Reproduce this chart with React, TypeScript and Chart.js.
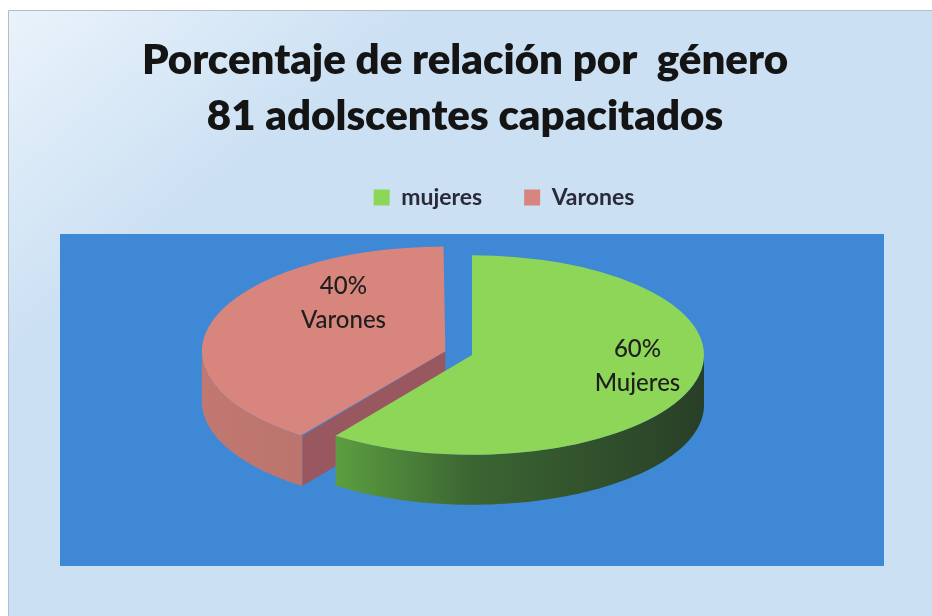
import React, { useEffect, useRef } from 'react';
import { Chart, registerables } from 'chart.js';

Chart.register(...registerables);

// ---------------- data ----------------
const TITLE_LINES = ['Porcentaje de relación por  género', '81 adolscentes capacitados'];
const CATEGORIES = ['mujeres', 'Varones'];
const SLICE_NAMES = ['Mujeres', 'Varones'];
const VALUES = [60, 40];

// ---------------- styles ----------------
const W = 932;
const H = 616;
const TOP_COLORS = ['#8dd657', '#d8857d'];
const WALL_STOPS = [
  [[0, '#62a843'], [0.2, '#5c9f40'], [0.5, '#3b6532'], [1, '#283f27']],
  [[0, '#c07870'], [1, '#ad6865']],
];
const CUT_COLORS = ['#3f6b31', '#995860'];
const EXPLODE = [0, 112];
const PIE_RADIUS = 232;
const PIE_CENTER_Y = 355;
const PIE_TILT = 0.43;
const PIE_DEPTH = 50;
const PLOT_INSET_TOP = 15;
const PLOT_COLOR = '#3e88d6';
const LABEL_K = [0.75, 0.44];
const LABEL_DY = [-12, -34];
const LEGEND_SHIFT = 32;
const TITLE_SHIFT = -7;

function geom(el: any) {
  const p = el.getProps(['x', 'y', 'startAngle', 'endAngle', 'outerRadius'], true);
  const off = (el.options.offset || 0) / 4;
  const mid = (p.startAngle + p.endAngle) / 2;
  const circ = p.endAngle - p.startAngle;
  const fix = 1 - Math.sin(Math.min(Math.PI, circ));
  return {
    cx: p.x + Math.cos(mid) * off,
    cy: p.y + Math.sin(mid) * off,
    r: p.outerRadius + off * fix,
    start: p.startAngle,
    end: p.endAngle,
    mid,
    baseY: p.y,
  };
}

const projY = (y: number, baseY: number) => PIE_CENTER_Y + (y - baseY) * PIE_TILT;

const backgroundPlugin = {
  id: 'bg',
  beforeDraw(chart: any) {
    const { ctx, chartArea: ca } = chart;
    ctx.save();
    ctx.fillStyle = '#ffffff';
    ctx.fillRect(0, 0, W, H);
    const g = ctx.createLinearGradient(8, 10, 180, 220);
    g.addColorStop(0, '#eaf3fb');
    g.addColorStop(1, '#cbe0f3');
    ctx.fillStyle = g;
    ctx.fillRect(8, 10, W - 8, H - 10);
    ctx.strokeStyle = '#b4bec8';
    ctx.lineWidth = 1;
    ctx.beginPath();
    ctx.moveTo(8.5, H);
    ctx.lineTo(8.5, 10.5);
    ctx.lineTo(W, 10.5);
    ctx.stroke();
    ctx.fillStyle = PLOT_COLOR;
    ctx.fillRect(ca.left, ca.top + PLOT_INSET_TOP, ca.right - ca.left, ca.bottom - ca.top - PLOT_INSET_TOP);
    ctx.restore();
  },
  afterLayout(chart: any) {
    if (chart.legend) {
      chart.legend.left += LEGEND_SHIFT;
      chart.legend.right += LEGEND_SHIFT;
    }
    if (chart.titleBlock) {
      chart.titleBlock.left += TITLE_SHIFT;
      chart.titleBlock.right += TITLE_SHIFT;
    }
  },
};

const pie3dPlugin = {
  id: 'pie3d',
  beforeDatasetsDraw(chart: any) {
    const { ctx } = chart;
    const meta = chart.getDatasetMeta(0);
    const els = meta.data.map((el: any, i: number) => ({ g: geom(el), i }));
    els.sort((a: any, b: any) => Math.sin(a.g.mid) - Math.sin(b.g.mid));
    const D = PIE_DEPTH;
    ctx.save();
    for (const { g, i } of els) {
      const P = (a: number) => [g.cx + g.r * Math.cos(a), projY(g.cy + g.r * Math.sin(a), g.baseY)];
      const apex = [g.cx, projY(g.cy, g.baseY)];
      const face = (a: number) => {
        const q = P(a);
        ctx.beginPath();
        ctx.moveTo(apex[0], apex[1]);
        ctx.lineTo(q[0], q[1]);
        ctx.lineTo(q[0], q[1] + D);
        ctx.lineTo(apex[0], apex[1] + D);
        ctx.closePath();
        ctx.fill();
      };
      ctx.fillStyle = CUT_COLORS[i];
      if (Math.cos(g.start) < -0.01) face(g.start);
      if (Math.cos(g.end) > 0.01) face(g.end);
      const grad = ctx.createLinearGradient(g.cx - g.r, 0, g.cx + g.r, 0);
      for (const [t, c] of WALL_STOPS[i]) grad.addColorStop(t as number, c as string);
      ctx.fillStyle = grad;
      for (let k = -2; k <= 2; k++) {
        const a0 = Math.max(g.start, 2 * Math.PI * k);
        const a1 = Math.min(g.end, 2 * Math.PI * k + Math.PI);
        if (a1 - a0 > 1e-4) {
          const N = 80;
          ctx.beginPath();
          for (let s = 0; s <= N; s++) {
            const q = P(a0 + ((a1 - a0) * s) / N);
            if (s === 0) ctx.moveTo(q[0], q[1]);
            else ctx.lineTo(q[0], q[1]);
          }
          for (let s = N; s >= 0; s--) {
            const q = P(a0 + ((a1 - a0) * s) / N);
            ctx.lineTo(q[0], q[1] + D);
          }
          ctx.closePath();
          ctx.fill();
        }
      }
    }
    ctx.restore();
    // tilt the top faces drawn by Chart.js
    const baseY = meta.data.length ? meta.data[0].y : 0;
    ctx.save();
    ctx.translate(0, PIE_CENTER_Y);
    ctx.scale(1, PIE_TILT);
    ctx.translate(0, -baseY);
  },
  afterDatasetsDraw(chart: any) {
    const { ctx } = chart;
    ctx.restore();
    const meta = chart.getDatasetMeta(0);
    const total = VALUES.reduce((a, b) => a + b, 0);
    ctx.save();
    ctx.font = '500 24px Lato';
    ctx.fillStyle = '#1e1e1e';
    ctx.textAlign = 'center';
    ctx.textBaseline = 'middle';
    meta.data.forEach((el: any, i: number) => {
      const g = geom(el);
      const k = LABEL_K[i];
      const x = g.cx + Math.cos(g.mid) * g.r * k;
      const y = projY(g.cy + Math.sin(g.mid) * g.r * k, g.baseY) + LABEL_DY[i];
      const pct = Math.round((VALUES[i] / total) * 100);
      ctx.fillText(`${pct}%`, x, y - 17);
      ctx.fillText(SLICE_NAMES[i], x, y + 17);
    });
    ctx.restore();
  },
};

export default function App() {
  const ref = useRef<HTMLCanvasElement | null>(null);
  useEffect(() => {
    if (!ref.current) return;
    const chart = new Chart(ref.current, {
      type: 'pie',
      data: {
        labels: CATEGORIES,
        datasets: [
          {
            data: VALUES,
            backgroundColor: TOP_COLORS,
            borderWidth: 0,
            offset: EXPLODE,
            radius: PIE_RADIUS,
            clip: false,
          } as any,
        ],
      },
      options: {
        responsive: false,
        animation: false,
        events: [],
        layout: { padding: { left: 60, right: 48, top: 0, bottom: 50 } },
        plugins: {
          title: {
            display: true,
            text: TITLE_LINES,
            color: '#141414',
            font: { family: 'Lato', size: 42, weight: 800, lineHeight: 56 / 42 },
            padding: { top: 32, bottom: 0 },
          },
          legend: {
            display: true,
            position: 'top',
            labels: {
              color: '#2a2a3a',
              font: { family: 'Lato', size: 23, weight: 'bold' },
              boxWidth: 16,
              boxHeight: 16,
              padding: 42,
            },
          },
          tooltip: { enabled: false },
        },
      } as any,
      plugins: [backgroundPlugin, pie3dPlugin],
    });
    return () => chart.destroy();
  }, []);
  return (
    <div style={{ position: 'absolute', left: 0, top: 0, width: W, height: H }}>
      <canvas ref={ref} width={W} height={H} style={{ display: 'block' }} />
    </div>
  );
}
